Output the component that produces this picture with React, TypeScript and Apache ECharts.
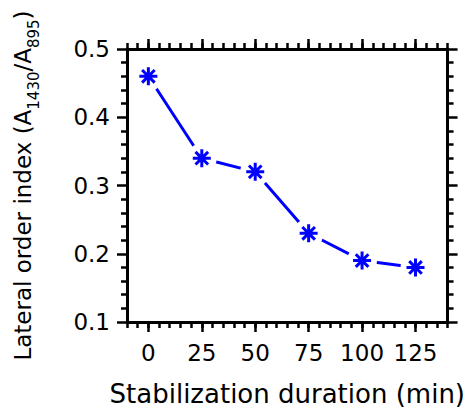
import React, { useEffect, useRef } from 'react';
import * as echarts from 'echarts';

const durations = [0, 25, 50, 75, 100, 125];
const orderIndex = [0.46, 0.34, 0.32, 0.23, 0.19, 0.18];
const xTickValues = [0, 25, 50, 75, 100, 125];
const xMin = -10;
const xMax = 140;
const xMinorStep = 5;
const yMin = 0.1;
const yMax = 0.5;
const yStep = 0.1;
const xTitle = 'Stabilization duration (min)';
const yTitleParts = ['Lateral order index (A', '1430', '/A', '895', ')'];

export default function App() {
  const ref = useRef<HTMLDivElement>(null);
  useEffect(() => {
    const chart = echarts.init(ref.current!, null, { renderer: 'svg' });
    const pts = durations.map((d, i) => [d, orderIndex[i]]);
    const font = 'DejaVu Sans';
    const black = '#000000';
    const blue = '#0000ff';
    const lineW = 3;
    const tickW = 2.5;
    const majorLen = 10;
    const minorLen = 6;

    const xMajor = (position: string, showLabel: boolean, name?: string) => ({
      type: 'value',
      position,
      min: xMin,
      max: xMax,
      name: name || '',
      nameLocation: 'middle',
      nameGap: 59,
      nameTextStyle: { fontFamily: font, fontSize: 26, color: black },
      axisLine: { show: true, onZero: false, lineStyle: { color: black, width: lineW } },
      axisTick: { show: true, inside: false, length: majorLen, customValues: xTickValues, lineStyle: { color: black, width: tickW } },
      axisLabel: { show: showLabel, customValues: xTickValues, margin: 19, fontFamily: font, fontSize: 23, color: black },
      splitLine: { show: false },
    });
    const xMinor = (position: string) => ({
      type: 'value',
      position,
      min: xMin,
      max: xMax,
      interval: xMinorStep,
      axisLine: { show: false },
      axisTick: { show: true, inside: false, length: minorLen, lineStyle: { color: black, width: tickW } },
      axisLabel: { show: false },
      splitLine: { show: false },
    });
    const yAxisDef = (position: string, showLabel: boolean, withName: boolean) => ({
      type: 'value',
      position,
      min: yMin,
      max: yMax,
      interval: yStep,
      name: withName
        ? `{n|${yTitleParts[0]}}{s|${yTitleParts[1]}}{n|${yTitleParts[2]}}{s|${yTitleParts[3]}}{n|${yTitleParts[4]}}`
        : '',
      nameLocation: 'middle',
      nameRotate: 90,
      nameGap: 86,
      nameTextStyle: {
        fontFamily: font,
        color: black,
        rich: {
          n: { fontFamily: font, fontSize: 23, lineHeight: 36, color: black },
          s: { fontFamily: font, fontSize: 15, lineHeight: 14, verticalAlign: 'bottom', color: black },
        },
      },
      axisLine: { show: true, onZero: false, lineStyle: { color: black, width: lineW } },
      axisTick: { show: true, inside: false, length: majorLen, lineStyle: { color: black, width: tickW } },
      minorTick: { show: true, splitNumber: 5, length: minorLen, lineStyle: { color: black, width: tickW } },
      axisLabel: {
        show: showLabel,
        margin: 17,
        fontFamily: font,
        fontSize: 23,
        color: black,
        formatter: (v: number) => v.toFixed(1),
      },
      splitLine: { show: false },
      minorSplitLine: { show: false },
    });

    chart.setOption({
      animation: false,
      backgroundColor: '#ffffff',
      grid: { left: 127, right: 18, top: 49, bottom: 87, containLabel: false },
      xAxis: [xMajor('bottom', true, xTitle), xMinor('bottom'), xMajor('top', false), xMinor('top')],
      yAxis: [yAxisDef('left', true, true), yAxisDef('right', false, false)],
      series: [
        {
          type: 'line',
          data: pts,
          xAxisIndex: 0,
          yAxisIndex: 0,
          symbol: 'none',
          lineStyle: { color: blue, width: 3, opacity: 1 },
          z: 1,
          silent: true,
        },
        {
          type: 'scatter',
          data: pts,
          xAxisIndex: 0,
          yAxisIndex: 0,
          symbol: 'circle',
          symbolSize: 30,
          itemStyle: { color: '#ffffff', opacity: 1 },
          z: 5,
          silent: true,
        },
        {
          type: 'scatter',
          data: pts,
          xAxisIndex: 0,
          yAxisIndex: 0,
          symbol: 'path://M0,-10L0,10M-10,0L10,0M-7,-7L7,7M-7,7L7,-7',
          symbolSize: 18,
          itemStyle: { color: blue, borderColor: blue, borderWidth: 3, opacity: 1 },
          z: 6,
          silent: true,
        },
      ],
    });
    return () => chart.dispose();
  }, []);
  return <div ref={ref} style={{ position: 'fixed', left: 0, top: 0, width: 468, height: 412, background: '#fff' }} />;
}
